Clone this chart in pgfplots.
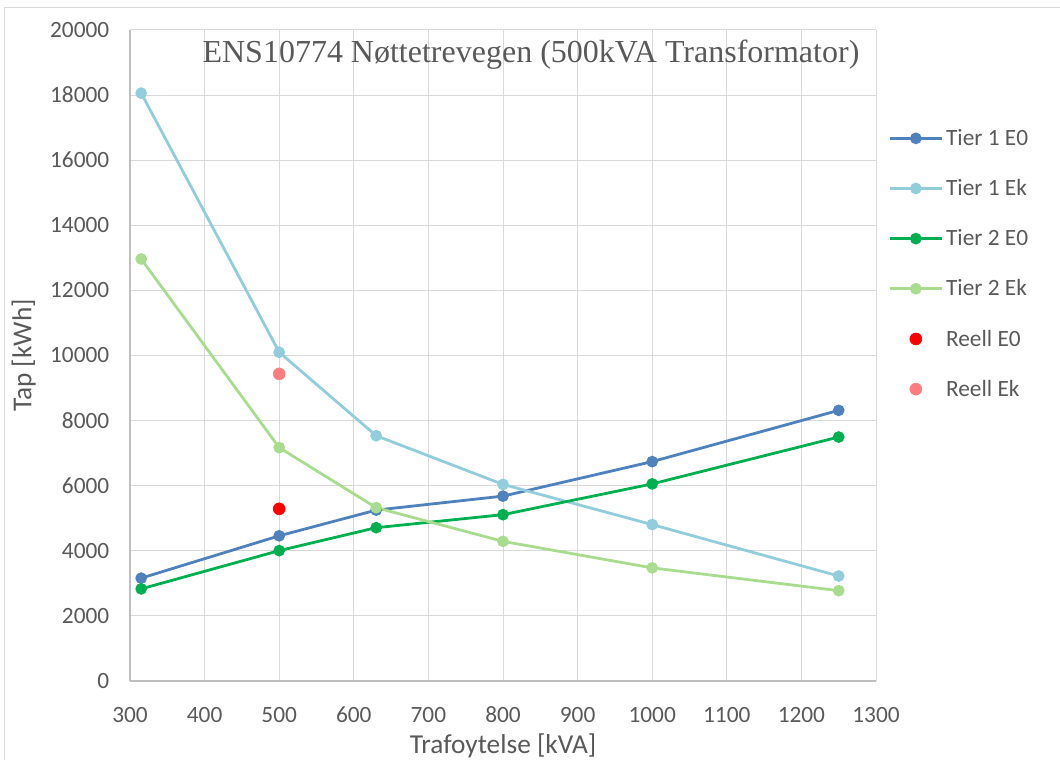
\documentclass[border=0pt]{standalone}
\usepackage{fontspec}
\setmainfont{Carlito}
\newfontfamily\titlefont{Liberation Serif}
\usepackage{pgfplots}
\pgfplotsset{compat=1.18}
\definecolor{tA}{HTML}{4F81BD}
\definecolor{tB}{HTML}{92CDDC}
\definecolor{tC}{HTML}{00B050}
\definecolor{tD}{HTML}{A9DC8F}
\definecolor{rA}{HTML}{FF0000}
\definecolor{rB}{HTML}{FF7C80}
\definecolor{txt}{HTML}{595959}
\definecolor{grd}{HTML}{D9D9D9}
\definecolor{axl}{HTML}{BFBFBF}
\pgfplotsset{
  mylegimg/.style={legend image code/.code={\draw[mark repeat=2,mark phase=2,##1] plot coordinates {(0cm,0cm) (0.69cm,0cm) (1.38cm,0cm)};}},
}
\begin{document}
\begin{tikzpicture}
\begin{axis}[
  at={(0,0)}, anchor=south west,
  scale only axis,
  width=559.5pt, height=488.25pt,
  xmin=300, xmax=1300, ymin=0, ymax=20000,
  xtick={300,400,...,1300},
  ytick={0,2000,...,20000},
  scaled ticks=false,
  grid=major,
  major grid style={grd, line width=0.75pt},
  axis x line*=bottom, axis y line*=left,
  axis line style={axl, line width=0.9pt, -},
  major tick length=0pt,
  tick label style={font=\fontsize{17.5}{21}\selectfont, text=txt},
  /pgf/number format/assume math mode=true,
  /pgf/number format/1000 sep={},
  xticklabel style={yshift=-16pt},
  yticklabel style={xshift=-12pt},
  xlabel={Trafoytelse [kVA]},
  ylabel={Tap [kWh]},
  label style={font=\fontsize{20.5}{24}\selectfont, text=txt},
  xlabel style={yshift=-1pt},
  ylabel style={yshift=4pt},
  legend style={at={(1,0.856)}, anchor=north west, xshift=6pt, draw=none, fill=none,
    font=\fontsize{17.5}{21}\selectfont, text=txt, row sep=20pt,
    /tikz/every even column/.append style={column sep=0pt}},
  legend cell align=left,
  mylegimg,
  clip=false,
]
\addplot[tA, line width=2.1pt, mark=*, mark size=3.3pt] coordinates {(315,3160) (500,4460) (630,5250) (800,5680) (1000,6740) (1250,8315)};
\addlegendentry{Tier 1 E0}
\addplot[tB, line width=2.1pt, mark=*, mark size=3.3pt] coordinates {(315,18060) (500,10100) (630,7535) (800,6040) (1000,4805) (1250,3225)};
\addlegendentry{Tier 1 Ek}
\addplot[tC, line width=2.1pt, mark=*, mark size=3.3pt] coordinates {(315,2830) (500,4005) (630,4710) (800,5110) (1000,6055) (1250,7495)};
\addlegendentry{Tier 2 E0}
\addplot[tD, line width=2.1pt, mark=*, mark size=3.3pt] coordinates {(315,12965) (500,7170) (630,5325) (800,4290) (1000,3475) (1250,2775)};
\addlegendentry{Tier 2 Ek}
\addplot[rA, only marks, mark=*, mark size=4.5pt, mylegimg] coordinates {(500,5290)};
\addlegendentry{Reell E0}
\addplot[rB, only marks, mark=*, mark size=4.5pt, mylegimg] coordinates {(500,9435)};
\addlegendentry{Reell Ek}
\node[font=\titlefont\fontsize{24}{28}\selectfont, text=txt] at (rel axis cs:0.5375,0.9616) {ENS10774 Nøttetrevegen (500kVA Transformator)};
\end{axis}
\draw[grd, line width=0.75pt] (-93.75pt,-59.25pt) -- (-93.75pt,504.75pt) -- (697.5pt,504.75pt);
\pgfresetboundingbox
\useasboundingbox (-97.5pt,-59.25pt) rectangle (697.5pt,510.75pt);
\end{tikzpicture}
\end{document}
